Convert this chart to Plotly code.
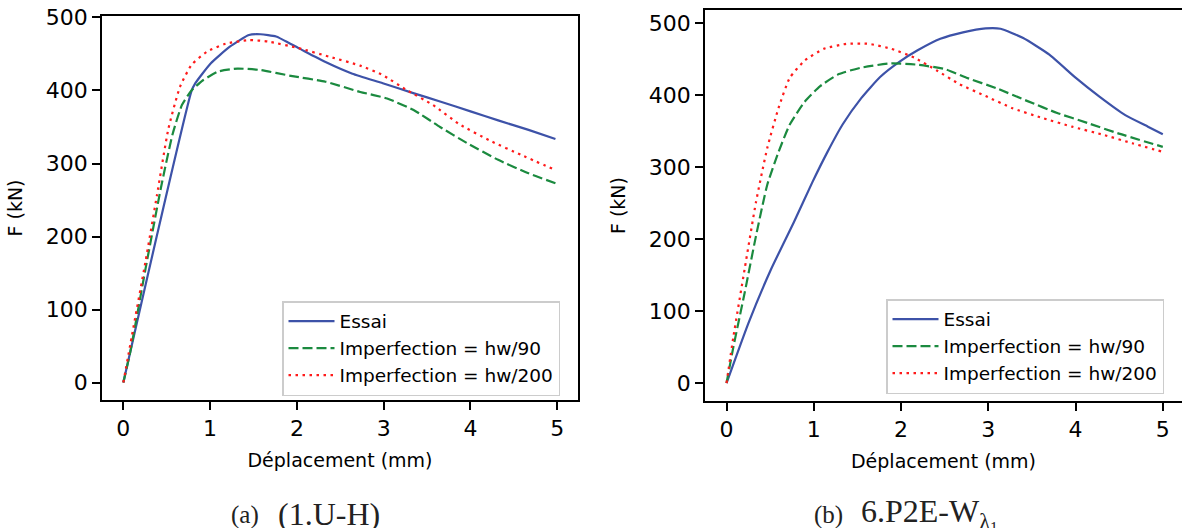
import plotly.graph_objects as go

# ---------------- data: panel (a) 1.U-H ----------------
a_essai_x = [0, 0.124, 0.388, 0.785, 0.83, 1.006, 1.227, 1.447, 1.58, 1.76, 2.02, 2.33, 2.64, 2.99, 3.35, 3.65, 4.01, 4.32, 4.67, 4.98]
a_essai_y = [0, 65, 202, 399, 410, 437, 460, 476, 477, 474, 458, 439, 423, 410, 396, 385, 371, 359, 346, 333.5]

a_hw90_x = [0, 0.08, 0.256, 0.432, 0.565, 0.675, 0.785, 0.918, 1.094, 1.315, 1.58, 1.93, 2.33, 2.73, 3.04, 3.35, 3.65, 3.96, 4.32, 4.67, 4.98]
a_hw90_y = [0, 42, 156, 266, 339, 380, 400, 414, 426, 430, 428, 420, 412, 398, 389, 373, 350, 328, 305, 286.5, 273]

a_hw200_x = [0, 0.10, 0.256, 0.388, 0.52, 0.653, 0.785, 0.962, 1.18, 1.447, 1.67, 2.02, 2.38, 2.73, 2.99, 3.26, 3.57, 3.87, 4.23, 4.58, 4.98]
a_hw200_y = [0, 65, 166, 257, 348, 405, 435, 453, 464, 469, 467, 458, 446, 434, 421, 401, 380, 354, 331, 312, 291]

# ---------------- data: panel (b) 6.P2E-W ----------------
b_essai_x = [0, 0.25, 0.51, 0.77, 0.984, 1.157, 1.33, 1.546, 1.76, 1.98, 2.19, 2.45, 2.71, 2.97, 3.14, 3.40, 3.70, 4.0, 4.27, 4.57, 4.83, 5.0]
b_essai_y = [0, 83, 158, 223, 279, 321, 359, 396, 425, 446, 462, 478, 487, 492.5, 492, 479, 456, 424, 398, 372, 356, 345.6]

b_hw90_x = [0, 0.078, 0.207, 0.337, 0.466, 0.596, 0.725, 0.898, 1.07, 1.287, 1.546, 1.89, 2.19, 2.5, 2.75, 3.1, 3.45, 3.79, 4.14, 4.48, 5.0]
b_hw90_y = [0, 50, 125, 204, 275, 321, 359, 391, 412, 429, 438, 444, 442, 436, 424, 409, 391.5, 375, 361, 347, 328]

b_hw200_x = [0, 0.078, 0.207, 0.337, 0.466, 0.596, 0.725, 0.898, 1.114, 1.373, 1.632, 1.89, 2.15, 2.41, 2.67, 2.97, 3.27, 3.62, 3.96, 4.31, 4.65, 5.0]
b_hw200_y = [0, 64, 158, 251, 326, 382, 424, 448, 464, 471, 471, 464, 452, 434, 415, 398.5, 382, 368, 356, 345, 333, 321]

series_names = ["Essai", "Imperfection = hw/90", "Imperfection = hw/200"]
x_ticks = [0, 1, 2, 3, 4, 5]
y_ticks = [0, 100, 200, 300, 400, 500]
captions = ["(a)", "(1.U-H)", "(b)", "6.P2E-W<sub>λ<sub>1</sub></sub>"]
x_title = "Déplacement (mm)"
y_title = "F (kN)"

W, H = 1182, 528
BLUE = "#3d52a8"
GREEN = "#1b8a3f"
RED = "#ff1a1a"
styles = [dict(color=BLUE, width=2.2),
          dict(color=GREEN, width=2.2, dash="10px,4px"),
          dict(color=RED, width=2.2, dash="2.5px,4.5px")]

fig = go.Figure()

panels = [
    ("x", "y", "legend", [(a_essai_x, a_essai_y), (a_hw90_x, a_hw90_y), (a_hw200_x, a_hw200_y)]),
    ("x2", "y2", "legend2", [(b_essai_x, b_essai_y), (b_hw90_x, b_hw90_y), (b_hw200_x, b_hw200_y)]),
]
for xa, ya, lg, data in panels:
    for i, (xs, ys) in enumerate(data):
        fig.add_trace(go.Scatter(
            x=xs, y=ys, mode="lines", name=series_names[i],
            line=dict(shape="spline", smoothing=0.5, **styles[i]),
            xaxis=xa, yaxis=ya, legend=lg, legendgroup=f"{lg}_{i}",
        ))

FONT = "DejaVu Sans"
common_axis = dict(
    showgrid=False, zeroline=False, showline=True, linecolor="black", linewidth=1.6,
    ticks="outside", ticklen=8, tickwidth=1.6, tickcolor="black", automargin=False,
    tickfont=dict(family=FONT, size=22, color="black"),
)


def px_x(p):
    return p / W


def px_y(p):
    return 1 - p / H


title_font = dict(family=FONT, size=19, color="black")
legend_common = dict(xanchor="left", yanchor="top",
                     bgcolor="white", bordercolor="#cccccc", borderwidth=1.5,
                     font=dict(family=FONT, size=18.5, color="black"),
                     tracegroupgap=2, traceorder="normal", itemwidth=46)

fig.update_layout(
    width=W, height=H,
    margin=dict(l=0, r=0, t=0, b=0, autoexpand=False),
    paper_bgcolor="white", plot_bgcolor="white",
    font=dict(family=FONT, color="black"),
    xaxis=dict(domain=[px_x(102), px_x(578)], range=[-0.246, 5.24], anchor="y",
               tickvals=x_ticks, mirror=True,
               title=dict(text=x_title, font=title_font, standoff=13),
               **common_axis),
    yaxis=dict(domain=[px_y(400), px_y(16)], range=[-23.9, 502], anchor="x",
               tickvals=y_ticks, mirror=True,
               title=dict(text=y_title, font=title_font, standoff=18),
               **common_axis),
    xaxis2=dict(domain=[px_x(705), 1.0], range=[-0.247, 5.22], anchor="y2",
                tickvals=x_ticks, mirror=True,
                title=dict(text=x_title, font=title_font, standoff=13),
                **common_axis),
    yaxis2=dict(domain=[px_y(401), px_y(10)], range=[-24.9, 518], anchor="x2",
                tickvals=y_ticks, mirror=False,
                title=dict(text=y_title, font=title_font, standoff=18),
                **common_axis),
    legend=dict(x=px_x(282), y=px_y(301), **legend_common),
    legend2=dict(x=px_x(886), y=px_y(299), **legend_common),
    showlegend=True,
)

SERIF = "Liberation Serif"
fig.add_annotation(text=captions[0], x=px_x(229), y=px_y(515), xref="paper", yref="paper",
                   xanchor="left", yanchor="middle",
                   showarrow=False, font=dict(family=SERIF, size=25, color="#222"))
fig.add_annotation(text=captions[1], x=px_x(276), y=px_y(514), xref="paper", yref="paper",
                   xanchor="left", yanchor="middle",
                   showarrow=False, font=dict(family=SERIF, size=32, color="#222"))
fig.add_annotation(text=captions[2], x=px_x(812), y=px_y(515), xref="paper", yref="paper",
                   xanchor="left", yanchor="middle",
                   showarrow=False, font=dict(family=SERIF, size=25, color="#222"))
fig.add_annotation(text=captions[3], x=px_x(859), y=px_y(514), xref="paper", yref="paper",
                   xanchor="left", yanchor="middle",
                   showarrow=False, font=dict(family=SERIF, size=32, color="#222"))

fig.write_html("out.html", config={"displayModeBar": False},
               post_script="document.body.style.margin='0px';")
